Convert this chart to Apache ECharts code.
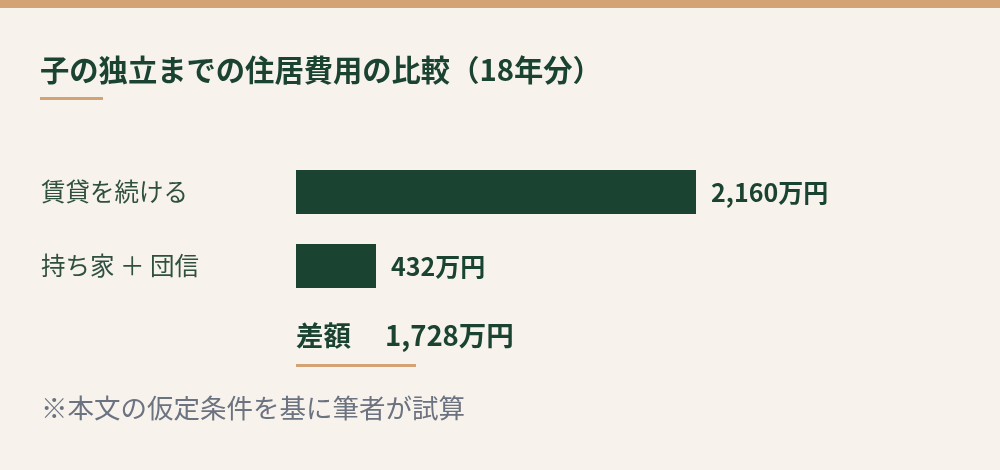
<!DOCTYPE html>
<html>
<head>
<meta charset="utf-8">
<script src="https://cdn.jsdelivr.net/npm/echarts@6/dist/echarts.min.js"></script>
<style>
  html, body { margin: 0; padding: 0; background: #f7f2eb; }
  #chart { width: 1000px; height: 470px; }
</style>
</head>
<body>
<div id="chart"></div>
<script>
var categories = ["賃貸を続ける", "持ち家 ＋ 団信"];
var costValues = [2160, 432];
var unit = "万円";
var titleText = "子の独立までの住居費用の比較（18年分）";
var diffLabel = "差額";
var noteText = "※本文の仮定条件を基に筆者が試算";

var FONT = '"Noto Sans CJK JP", "Noto Sans", sans-serif';
var green = "#1b4332";
var accent = "#d4a373";

function fmt(v) {
  return v.toLocaleString("en-US") + unit;
}

var diff = costValues[0] - costValues[1];

var chart = echarts.init(document.getElementById("chart"));

chart.setOption({
  backgroundColor: "#f7f2eb",
  animation: false,
  title: {
    text: titleText,
    left: 35,
    top: 50,
    textStyle: {
      fontFamily: FONT,
      fontSize: 29.3,
      fontWeight: "bold",
      color: green,
    },
  },
  grid: {
    left: 296,
    top: 155,
    width: 400,
    height: 148,
  },
  xAxis: {
    type: "value",
    min: 0,
    max: costValues[0],
    show: false,
  },
  yAxis: {
    type: "category",
    data: categories,
    inverse: true,
    axisLine: { show: false },
    axisTick: { show: false },
    splitLine: { show: false },
    axisLabel: {
      align: "left",
      margin: 255,
      fontFamily: FONT,
      fontSize: 24.5,
      color: "#2f4f3f",
    },
  },
  series: [
    {
      type: "bar",
      data: costValues,
      barWidth: 44,
      itemStyle: { color: green },
      label: {
        show: true,
        position: "right",
        distance: 15,
        fontFamily: FONT,
        fontSize: 25,
        fontWeight: "bold",
        color: green,
        formatter: function (p) {
          return fmt(p.value);
        },
      },
    },
  ],
  graphic: [
    {
      type: "rect",
      left: 0,
      top: 0,
      shape: { width: 1000, height: 8 },
      style: { fill: accent },
    },
    {
      type: "rect",
      left: 40,
      top: 97,
      shape: { width: 63, height: 3 },
      style: { fill: accent },
    },
    {
      type: "text",
      left: 296,
      top: 322,
      style: {
        text: diffLabel,
        font: "bold 27.5px " + FONT,
        fill: green,
      },
    },
    {
      type: "text",
      left: 385,
      top: 322,
      style: {
        text: fmt(diff),
        font: "bold 27.5px " + FONT,
        fill: green,
      },
    },
    {
      type: "rect",
      left: 296,
      top: 364,
      shape: { width: 120, height: 3 },
      style: { fill: accent },
    },
    {
      type: "text",
      left: 41,
      top: 395,
      style: {
        text: noteText,
        font: "26.5px " + FONT,
        fill: "#6b7280",
      },
    },
  ],
});
</script>
</body>
</html>
